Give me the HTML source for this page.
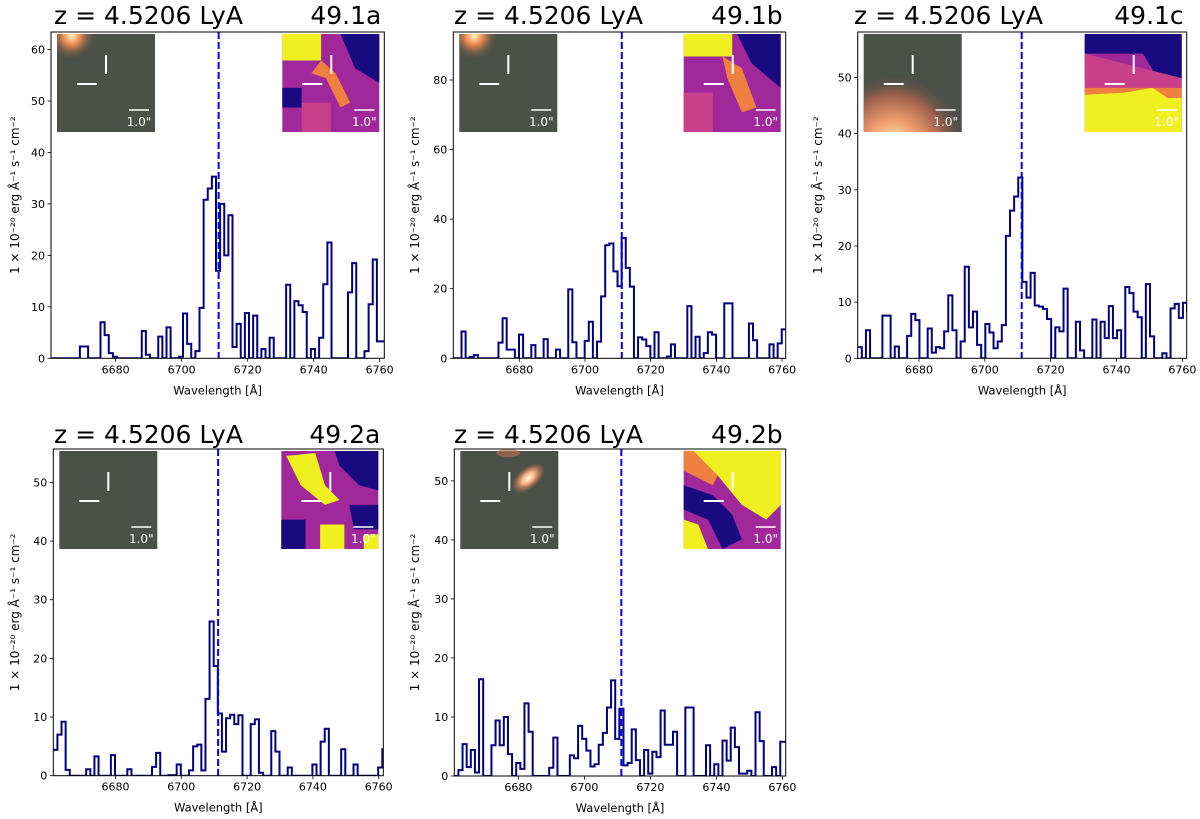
<!DOCTYPE html>
<html><head><meta charset="utf-8"><style>
html,body{margin:0;padding:0;background:#fff;}
svg{display:block;font-family:"DejaVu Sans","Liberation Sans",sans-serif;}
</style></head><body>
<svg id="fig" width="1200" height="819" viewBox="0 0 1200 819" xmlns="http://www.w3.org/2000/svg">
<defs>
<radialGradient id="gBlobTL" cx="0.15" cy="0.02" r="0.25"><stop offset="0" stop-color="#fff0c0"/><stop offset="0.35" stop-color="#f08a50"/><stop offset="1" stop-color="#4b5048" stop-opacity="0"/></radialGradient>
<radialGradient id="gBot" cx="0.3" cy="1.15" r="0.75"><stop offset="0" stop-color="#fff2c8"/><stop offset="0.35" stop-color="#f0a070"/><stop offset="0.7" stop-color="#a0604c"/><stop offset="1" stop-color="#4b5048" stop-opacity="0"/></radialGradient>
<radialGradient id="gEll" cx="0.5" cy="0.5" r="0.5"><stop offset="0" stop-color="#fffbe8"/><stop offset="0.4" stop-color="#f6b080"/><stop offset="1" stop-color="#c06040" stop-opacity="0"/></radialGradient>
</defs>
</svg>
<script>
// ---- data (flux per 1.25 Å bin, units 1e-20 erg/s/cm2/Å) ----
const binWidth = 1.25;
const lyaWave = 6711.2;
const xTicks = [6680, 6700, 6720, 6740, 6760];
const titles = ["49.1a", "49.1b", "49.1c", "49.2a", "49.2b"];
const wlStart = [6660.4, 6659.9, 6661.4, 6661.1, 6660.6];
const wlEnd = [6761.4, 6761.1, 6761.3, 6761.4, 6761.0];
const yMaxes = [63.4, 93.8, 58.1, 55.7, 55.4];
const yTicks1 = [0, 10, 20, 30, 40, 50, 60];
const yTicks2 = [0, 20, 40, 60, 80];
const yTicks3 = [0, 10, 20, 30, 40, 50];
const yTicks4 = [0, 10, 20, 30, 40, 50];
const yTicks5 = [0, 10, 20, 30, 40, 50];
const flux1 = [0,0,0,0,0,0,0,2.3,2.3,0,0,0,7,4.5,1,0.3,0,0,0,0,0,0,5.3,0.7,0,0,4.2,0,6,0,0,0.3,8.7,2.8,0,1.4,9.8,30.8,33,35.3,17,30,20,27.8,2.2,6.7,0,8.8,0,8.3,0,1.8,0,4,0,0,0,14.3,0,11.1,10.3,9,0,1.8,0,4,14.4,22.5,0,0,0,0,12.8,18.5,0,0,1.4,10.5,19.2,3.3,3.3];
const flux2 = [0,0,7.7,0,0.4,0.9,0,0,0,0,0,4.5,11.5,2.5,2.5,0,6.8,0,0,3.8,0,0,5.5,0,0,2.5,0,0,19.8,4.6,0,0,5,10.5,0,4.8,17.8,32.5,33,25,20.7,34.6,26,20.6,0,6,5.4,3.5,0,7.5,0,0,0.5,4,0,0,0,15,0,6.2,0,1.5,7.5,6.8,0,0,15.8,15.8,0,0,0,0,10,5.2,0,0,0,4,0,4.3,8.3];
const flux3 = [2,0,5,0,0,0,7.6,7.6,0,2.1,0,0,4,7.9,6.8,0,0,5.3,1,2,1.8,4.8,11.2,5,0,3,16.3,5.5,8.3,2.4,0,6.1,4.6,1.8,3,5.9,21.8,26.3,28.8,32.2,13.6,10.8,15.2,9.4,9.2,8.8,7,0,5.5,4.8,12.4,0,0,6.5,1.4,0,0,6.9,0,6.5,3.6,9.3,3.6,5,0,12.7,11.6,8.3,7.3,0,13.2,3.9,0,0,0.9,0,8.9,9.7,7.2,9.9,8.5];
const flux4 = [4.4,7,9.2,1,0,0,0,0,1.1,0,3.3,0,0,0,3.5,0,0,0,1.1,0,0,0,0,0,1.5,3.9,0,0,0.1,0.1,1.9,0,0,0.9,5,5.3,0.9,13.1,26.3,18.7,10.6,4.1,9.8,10.4,8.8,10.3,0,0,8.8,9.6,0.5,0,0,7.6,4.1,0,0,1.4,0,0,0,0,0,1.9,0,5.8,8,0,0,0,4.5,0,0,1.9,0,0,0,0,0,1.4,4.5];
const flux5 = [0,1,5.4,1.5,4.4,0.6,16.4,0,0,5.2,9.4,5.2,10,3.7,0,2.2,1.2,12.3,7.5,0,0,0,0,1.4,6.5,0,0,0,3.5,3,8.5,6.3,4.3,1.6,2,5.3,7.3,11.6,16.2,6.3,11.4,1.8,2.2,7.9,2.7,0,4.4,0.4,4.1,3.2,11.1,5.3,5.3,7.5,0,0,11.6,11.6,0,0,0,5.2,0,2,0,6,2.6,8.2,4.9,0.4,0.4,0.9,0,10.8,5.9,0,0,1.5,0,5.8,5.8];

const fluxes = [flux1, flux2, flux3, flux4, flux5];
const yTickSets = [yTicks1, yTicks2, yTicks3, yTicks4, yTicks5];
// axes boxes (layout)
const boxes = [
  {L:51, R:384.3, T:32, B:358.3, ox:0, oy:0},
  {L:453.3, R:785.7, T:32, B:358.3, ox:400, oy:0},
  {L:857.7, R:1186.7, T:32, B:358.3, ox:800, oy:0},
  {L:53.3, R:383.3, T:449, B:775.7, ox:0, oy:419},
  {L:454.3, R:785.7, T:449, B:776, ox:400, oy:419}
];
const NS = "http://www.w3.org/2000/svg";
const fig = document.getElementById('fig');
function mk(tag, attrs, parent){const e=document.createElementNS(NS,tag);for(const k in attrs)e.setAttribute(k,attrs[k]);(parent||fig).appendChild(e);return e;}

function leftInset(g, p, x, y){
  mk('rect',{x:x,y:y,width:98,height:98,fill:'#4b5048'},g);
  if(p===0||p===1) mk('rect',{x:x,y:y,width:98,height:98,fill:'url(#gBlobTL)'},g);
  if(p===2) mk('rect',{x:x,y:y,width:98,height:98,fill:'url(#gBot)'},g);
  if(p===4){
    mk('ellipse',{cx:x+68,cy:y+27,rx:20,ry:11,transform:`rotate(-40 ${x+68} ${y+27})`,fill:'url(#gEll)'},g);
    mk('ellipse',{cx:x+48,cy:y+2,rx:12,ry:4,fill:'#c07050',opacity:0.6},g);
  }
}
function rightInset(g, p, x, y){
  const Y='#f0f020', P='#a0289a', N='#1a0a80', M='#c8408a', O='#f08040';
  mk('rect',{x:x,y:y,width:97,height:98,fill:P},g);
  const polys = [
    [[N,'0.45,0 1,0 1,0.45 0.8,0.5 0.7,0.3 0.5,0.2']],
    [[Y,'0,0 0.4,0 0.4,0.27 0,0.27'],[O,'0.4,0.27 0.55,0.4 0.7,0.7 0.6,0.75 0.45,0.45 0.3,0.4'],[N,'0.6,0 1,0 1,0.5 0.75,0.35'],[N,'0,0.55 0.2,0.55 0.2,0.75 0,0.75'],[M,'0.2,0.7 0.5,0.7 0.5,1 0.2,1']],
    [[Y,'0,0 0.5,0 0.5,0.23 0,0.23'],[O,'0.4,0.23 0.6,0.35 0.75,0.75 0.6,0.8 0.45,0.45'],[N,'0.55,0 1,0 1,0.55 0.7,0.3'],[M,'0,0.6 0.3,0.6 0.3,1 0,1']],
    [[N,'0,0 0.55,0 1,0 1,0.45 0.75,0.45 0.6,0.2 0,0.2'],[M,'0,0.2 1,0.45 1,0.55 0,0.55'],[O,'0,0.55 1,0.55 1,0.65 0,0.62'],[Y,'0,0.62 0.4,0.6 0.7,0.55 0.85,0.65 1,0.65 1,1 0,1']],
    [[Y,'0.05,0.05 0.35,0.02 0.45,0.35 0.6,0.5 0.45,0.55 0.2,0.35'],[N,'0.55,0 1,0 1,0.4 0.8,0.35 0.6,0.15'],[N,'0,0.7 0.25,0.7 0.25,1 0,1'],[N,'0.7,0.55 1,0.55 1,0.8 0.75,0.8'],[Y,'0.4,0.75 0.65,0.75 0.65,1 0.4,1'],[Y,'0.85,0.85 1,0.85 1,1 0.85,1']],
    [[Y,'0.1,0 1,0 1,0.55 0.85,0.7 0.6,0.55 0.35,0.25'],[O,'0.1,0 0.35,0.25 0.3,0.35 0,0.2 0,0'],[N,'0,0.35 0.3,0.45 0.5,0.65 0.6,0.9 0.4,1 0.25,0.7 0,0.6'],[Y,'0,0.7 0.15,0.75 0.25,1 0,1']]
  ];
  let set = p===0?polys[1]:p===1?polys[2]:p===2?polys[3]:p===3?polys[4]:polys[5];
  set.forEach(([c,pts])=>{
    const abs = pts.split(' ').map(s=>{const [a,b]=s.split(',').map(Number);return (x+a*97)+','+(y+b*98);}).join(' ');
    mk('polygon',{points:abs,fill:c},g);
  });
}
function marks(g, x, y){
  mk('line',{x1:x+49,y1:y+21,x2:x+49,y2:y+40,stroke:'#fff','stroke-width':2},g);
  mk('line',{x1:x+20,y1:y+50,x2:x+40,y2:y+50,stroke:'#fff','stroke-width':2},g);
  mk('line',{x1:x+72,y1:y+76,x2:x+92,y2:y+76,stroke:'#fff','stroke-width':1.5},g);
  const t=mk('text',{x:x+82,y:y+92,'font-size':12,fill:'#fff','text-anchor':'middle'},g);
  t.textContent='1.0"';
}

boxes.forEach((b, p)=>{
  const g = mk('g',{});
  
  
  const xmin = wlStart[p], xmax = wlEnd[p], ymax = yMaxes[p];
  const sx = v => b.L + (v - xmin) / (xmax - xmin) * (b.R - b.L);
  const sy = v => b.B - v / ymax * (b.B - b.T);
  const t1 = mk('text',{x:b.ox+54,y:b.oy+24,'font-size':25,fill:'#000'},g);
  t1.textContent = 'z = 4.5206 LyA';
  
  
  const t2 = mk('text',{x:b.R-3,y:b.oy+24,'font-size':25,fill:'#000','text-anchor':'end'},g);
  t2.textContent = titles[p];
  
  
  const cp = mk('clipPath',{id:'clip'+p},g);
  mk('rect',{x:b.L,y:b.T,width:b.R-b.L,height:b.B-b.T},cp);
  const f = fluxes[p];
  let d = `M${sx(xmin)},${sy(f[0])}`;
  for(let i=0;i<f.length;i++){
    const xe = sx(xmin + (i+1)*binWidth);
    d += ` H${xe}`;
    if(i+1<f.length) d += ` V${sy(f[i+1])}`;
  }
  const path = mk('path',{d:d,fill:'none',stroke:'#00007f','stroke-width':2,'clip-path':`url(#clip${p})`},g);
  
  
  const ll = mk('line',{x1:sx(lyaWave),x2:sx(lyaWave),y1:b.T,y2:b.B,stroke:'#0000ff','stroke-width':2,'stroke-dasharray':'7,3'},g);
  
  
  const gi = mk('g',{},g);
  
  
  leftInset(gi, p, b.L+6, b.T+2);
  marks(gi, b.L+6, b.T+2);
  const gr = mk('g',{},g);
  
  
  rightInset(gr, p, b.R-102, b.T+2);
  marks(gr, b.R-102, b.T+2);
  const fr = mk('rect',{x:b.L,y:b.T,width:b.R-b.L,height:b.B-b.T,fill:'none',stroke:'#000','stroke-width':1},g);
  
  
  xTicks.forEach(v=>{
    const x = sx(v);
    mk('line',{x1:x,x2:x,y1:b.B,y2:b.B+3.5,stroke:'#000','stroke-width':0.8},g);
    const tl = mk('text',{x:x,y:b.B+15,'font-size':11,'text-anchor':'middle',fill:'#000'},g);
    tl.textContent = v;
    
    
  });
  yTickSets[p].forEach(v=>{
    const y = sy(v);
    mk('line',{x1:b.L-3.5,x2:b.L,y1:y,y2:y,stroke:'#000','stroke-width':0.8},g);
    const tl = mk('text',{x:b.L-6,y:y+4,'font-size':11,'text-anchor':'end',fill:'#000'},g);
    tl.textContent = v;
    
    
  });
  const xl = mk('text',{x:(b.L+b.R)/2,y:b.B+36,'font-size':11.5,'text-anchor':'middle',fill:'#000'},g);
  xl.textContent = 'Wavelength [Å]';
  
  
  const ylx = p===2 ? b.ox+22 : b.ox+19;
  const ycy = (b.T+b.B)/2;
  const yl = mk('text',{x:ylx,y:ycy,'font-size':12,'text-anchor':'middle',fill:'#000',transform:`rotate(-90 ${ylx} ${ycy})`},g);
  yl.textContent = '1 × 10⁻²⁰ erg Å⁻¹ s⁻¹ cm⁻²';
  
  
});
</script>
</body></html>
